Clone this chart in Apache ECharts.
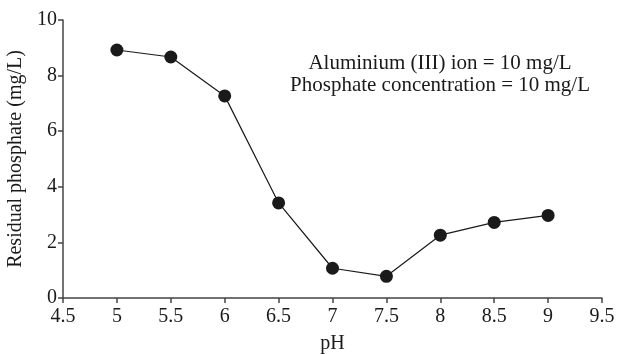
<!DOCTYPE html>
<html>
<head>
<meta charset="utf-8">
<script src="https://cdn.jsdelivr.net/npm/echarts@6/dist/echarts.min.js"></script>
<style>
  html, body { margin: 0; padding: 0; background: #fff; }
  #chart { width: 619px; height: 354px; }
</style>
</head>
<body>
<div id="chart"></div>
<script>
// pH values and residual phosphate (mg/L)
const phValues = [5, 5.5, 6, 6.5, 7, 7.5, 8, 8.5, 9]
const residual = [8.92, 8.67, 7.27, 3.42, 1.07, 0.78, 2.26, 2.72, 2.97]
const noteLines = ['Aluminium (III) ion = 10 mg/L', 'Phosphate concentration = 10 mg/L']

const font = 'Liberation Serif'
const ink = '#1a1a1a'

const chart = echarts.init(document.getElementById('chart'))

chart.setOption({
  animation: false,
  grid: { left: 63, right: 17, top: 20, bottom: 56, outerBoundsMode: 'none' },
  xAxis: {
    type: 'value',
    min: 4.5,
    max: 9.5,
    interval: 0.5,
    name: 'pH',
    nameLocation: 'middle',
    nameGap: 36,
    nameTextStyle: { fontFamily: font, fontSize: 20, color: ink },
    axisLine: { lineStyle: { color: '#444', width: 1.5 } },
    axisTick: { length: 5, lineStyle: { color: '#444', width: 1.5 } },
    axisLabel: { fontFamily: font, fontSize: 20, color: ink, margin: 9 },
    splitLine: { show: false }
  },
  yAxis: {
    type: 'value',
    min: 0,
    max: 10,
    interval: 2,
    name: 'Residual phosphate (mg/L)',
    nameLocation: 'middle',
    nameGap: 30,
    nameTextStyle: { fontFamily: font, fontSize: 20, color: ink },
    axisLine: { show: true, lineStyle: { color: '#444', width: 1.5 } },
    axisTick: { show: true, length: 5, lineStyle: { color: '#444', width: 1.5 } },
    axisLabel: { fontFamily: font, fontSize: 20, color: ink, margin: 6 },
    splitLine: { show: false }
  },
  graphic: noteLines.map((t, i) => ({
    type: 'text',
    style: {
      text: t,
      x: 440,
      y: 63 + i * 22,
      textAlign: 'center',
      textVerticalAlign: 'middle',
      font: '21px "' + font + '"',
      fill: ink
    }
  })),
  series: [{
    type: 'line',
    data: phValues.map((x, i) => [x, residual[i]]),
    symbol: 'circle',
    symbolSize: 13,
    itemStyle: { color: ink },
    lineStyle: { color: ink, width: 1.2 }
  }]
})
</script>
</body>
</html>
